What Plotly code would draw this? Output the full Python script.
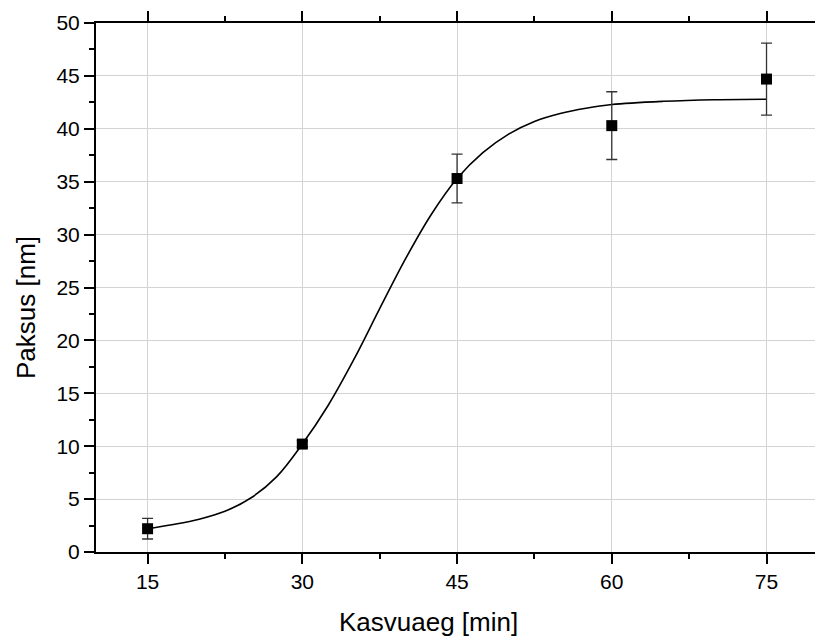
import plotly.graph_objects as go

# Measured film thickness vs. growth time
time_min = [15, 30, 45, 60, 75]
thickness_nm = [2.2, 10.2, 35.3, 40.3, 44.7]
thickness_err = [0.97, 0.3, 2.3, 3.2, 3.4]

# Sigmoidal fit curve (sampled)
fit_x = [15, 17.5, 20, 22.5, 25, 27.5, 30, 32.5, 35, 37.5, 40, 42.5, 45,
         47.5, 50, 52.5, 55, 57.5, 60, 65, 70, 75]
fit_y = [2.2, 2.6, 3.1, 3.85, 5.1, 7.1, 10.2, 13.85, 18.2, 23.0, 27.7, 31.9, 35.3,
         37.75, 39.5, 40.7, 41.45, 41.95, 42.3, 42.6, 42.75, 42.8]

x_ticks = [15, 30, 45, 60, 75]
y_ticks = [0, 5, 10, 15, 20, 25, 30, 35, 40, 45, 50]

FONT = "Arial, Liberation Sans, sans-serif"

fig = go.Figure()

fig.add_trace(go.Scatter(
    x=fit_x, y=fit_y, mode="lines",
    line=dict(color="black", width=1.6, shape="spline", smoothing=1.0),
    hoverinfo="skip", showlegend=False,
))

fig.add_trace(go.Scatter(
    x=time_min, y=thickness_nm, mode="markers",
    marker=dict(symbol="square", size=11, color="black"),
    error_y=dict(type="data", array=thickness_err, visible=True,
                 color="#333333", thickness=1.3, width=5.5),
    showlegend=False,
))

axis_common = dict(
    showline=True, linecolor="black", linewidth=2,
    ticks="outside", ticklen=10, tickwidth=2, tickcolor="black",
    showgrid=True, gridcolor="#d3d3d3", gridwidth=1,
    zeroline=False,
    tickfont=dict(family=FONT, size=21, color="black"),
)

fig.update_xaxes(
    range=[10, 79.7], tickvals=x_ticks, mirror="allticks",
    minor=dict(ticks="outside", ticklen=5, tickwidth=2, tickcolor="black",
               dtick=7.5, tick0=15, showgrid=False),
    **axis_common,
)
fig.update_yaxes(
    range=[0, 50], tickvals=y_ticks,
    minor=dict(ticks="outside", ticklen=5, tickwidth=2, tickcolor="black",
               dtick=2.5, tick0=0, showgrid=False),
    **axis_common,
)

fig.add_annotation(
    text="Kasvuaeg [min]", xref="paper", yref="paper",
    x=0.462, y=-0.133, xanchor="center", yanchor="middle", showarrow=False,
    font=dict(family=FONT, size=26, color="black"),
)
fig.add_annotation(
    text="Paksus [nm]", xref="paper", yref="paper",
    x=-0.0974, y=0.463, xanchor="center", yanchor="middle", showarrow=False,
    textangle=-90, font=dict(family=FONT, size=26, color="black"),
)

fig.update_layout(
    width=815, height=637,
    margin=dict(l=96, r=0, t=23, b=85),
    paper_bgcolor="white", plot_bgcolor="white",
)

fig.write_html("out.html")
